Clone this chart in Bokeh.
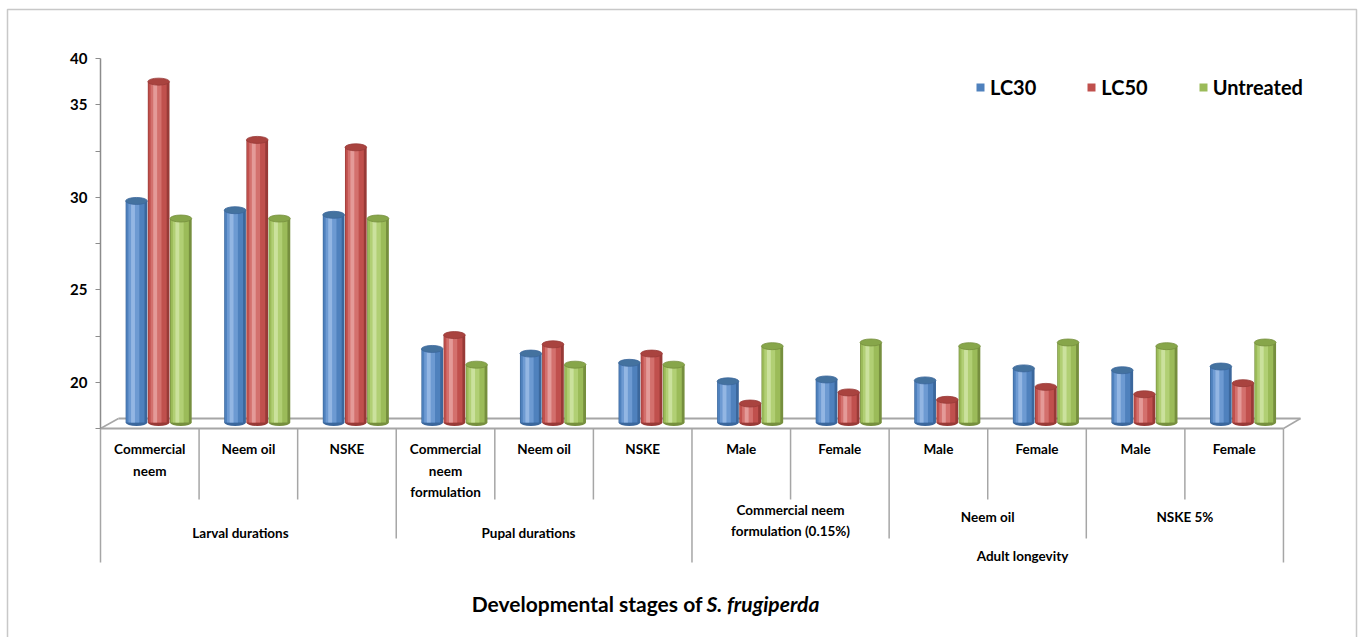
from bokeh.plotting import figure
from bokeh.models import (Range1d, FixedTicker, Legend, LegendItem,
                          BoxAnnotation, ColumnDataSource)
from bokeh.core.properties import value
from bokeh.embed import file_html
from bokeh.resources import INLINE

# ---------------------------------------------------------------- data
categories = ["Commercial\nneem", "Neem oil", "NSKE",
              "Commercial\nneem\nformulation", "Neem oil", "NSKE",
              "Male", "Female", "Male", "Female", "Male", "Female"]

lc30 = [29.8, 29.3, 29.05, 21.8, 21.55, 21.05,
        20.05, 20.15, 20.1, 20.75, 20.65, 20.85]
lc50 = [36.25, 33.1, 32.7, 22.55, 22.05, 21.55,
        18.85, 19.45, 19.05, 19.75, 19.35, 19.95]
untreated = [28.85, 28.85, 28.85, 20.95, 20.95, 20.95,
             21.95, 22.15, 21.95, 22.15, 21.95, 22.15]

series_names = ["LC30", "LC50", "Untreated"]

stage_groups = ["Larval durations", "Pupal durations"]
adult_groups = ["Commercial neem\nformulation (0.15%)", "Neem oil", "NSKE 5%"]
adult_stage = "Adult longevity"
axis_title = "Developmental stages of"
species = "S. frugiperda"

y_ticks = [17.5, 20, 22.5, 25, 27.5, 30, 32.5, 35, 37.5]
y_tick_labels = ["", "20", "", "25", "", "30", "", "35", "40"]

# ---------------------------------------------------------------- layout
W, H = 1358, 637
AXIS_PX = 100             # pixel column of the value axis
CAT_PX = 98.58            # width of one category cell
AXIS_MIN = y_ticks[0]
BASE_PY = 428             # pixel row of the axis minimum
UNIT_PX = 18.5            # pixels per unit on the value axis
FONT = value("Lato")


def xd(px):
    return (px - AXIS_PX) / CAT_PX


def yd(py):
    return AXIS_MIN + (BASE_PY - py) / UNIT_PX


p = figure(width=W, height=H, output_backend="svg", toolbar_location=None,
           x_range=Range1d(xd(0), xd(W)), y_range=Range1d(yd(H), yd(0)),
           x_axis_location=None, min_border_left=0,
           min_border_right=0, min_border_top=0, min_border_bottom=0)
p.grid.visible = False
p.outline_line_color = None
p.background_fill_color = "white"
p.border_fill_color = "white"

# value axis, pinned to the left wall of the 3-D box
ax = p.yaxis[0]
ax.fixed_location = 0
ax.ticker = FixedTicker(ticks=y_ticks)
ax.bounds = (y_ticks[0], y_ticks[-1])
ax.major_label_overrides = {t: lab for t, lab in zip(y_ticks, y_tick_labels)}
ax.axis_line_color = "#8c8c8c"
ax.axis_line_width = 1.5
ax.major_tick_line_color = "#8c8c8c"
ax.major_tick_line_width = 1.2
ax.major_tick_out = 5
ax.major_tick_in = 0
ax.minor_tick_out = 0
ax.minor_tick_in = 0
ax.major_label_standoff = 8
ax.major_label_text_font = "Lato"
ax.major_label_text_font_style = "bold"
ax.major_label_text_font_size = "15px"
ax.major_label_text_color = "black"

# floor of the 3-D box
n = len(categories)
floor_back = yd(418)
p.line(x=[xd(118), xd(1300)], y=[floor_back, floor_back],
       line_color="#a6a6a6", line_width=2)
p.line(x=[0, xd(118)], y=[AXIS_MIN, floor_back], line_color="#a6a6a6", line_width=1.5)
p.line(x=[n, xd(1300)], y=[AXIS_MIN, floor_back], line_color="#a6a6a6", line_width=1.5)
p.line(x=[0, n], y=[AXIS_MIN, AXIS_MIN], line_color="#a6a6a6", line_width=2)

# cylinders
palettes = [
    dict(edge="#3b679c", base="#4f81bd", light="#6d9ad2", hi="#93b6e3", top="#44729f"),
    dict(edge="#983a37", base="#c0504d", light="#d3706d", hi="#e49a98", top="#a9433f"),
    dict(edge="#768f3e", base="#9bbb59", light="#b1cf74", hi="#cbe19d", top="#87a64a"),
]
bands = [(1.0, 0.0, "edge"), (0.84, -0.05, "base"),
         (0.5, -0.12, "light"), (0.18, -0.16, "hi")]
BAR_W = 0.22
BAR_CENTER = 0.59
BAR_STEP = 0.225
base_y = yd(422)

body_renderers = []
for k, vals in enumerate([lc30, lc50, untreated]):
    pal = palettes[k]
    xs = [i + BAR_CENTER + (k - 1) * BAR_STEP for i in range(n)]
    src = ColumnDataSource(dict(x=xs, top=vals, bottom=[base_y] * n))
    p.ellipse(x="x", y="bottom", width=BAR_W, height=7, height_units="screen",
              source=src, fill_color=pal["edge"], line_color=None)
    main = None
    for frac, shift, key in bands:
        bsrc = ColumnDataSource(dict(x=[v + shift * BAR_W for v in xs],
                                     top=vals, bottom=[base_y] * n))
        r = p.vbar(x="x", top="top", bottom="bottom", width=BAR_W * frac,
                   source=bsrc, fill_color=pal[key], line_color=None)
        if key == "base":
            main = r
    body_renderers.append(main)
    p.ellipse(x="x", y="top", width=BAR_W, height=7, height_units="screen",
              source=src, fill_color=pal["top"], line_color=pal["edge"],
              line_width=0.8)

# category table below the floor
boundary_level = [3, 1, 1, 2, 1, 1, 3, 1, 2, 1, 2, 1, 3]
level_bottom = {1: 499, 2: 538, 3: 562}
p.segment(x0=list(range(n + 1)), y0=[AXIS_MIN] * (n + 1),
          x1=list(range(n + 1)), y1=[yd(level_bottom[l]) for l in boundary_level],
          line_color="#a6a6a6", line_width=1.5)

line_rows = [448, 470, 491]
tx, ty, tt = [], [], []
for i, lab in enumerate(categories):
    for j, part in enumerate(lab.split("\n")):
        tx.append(i + 0.5)
        ty.append(yd(line_rows[j]))
        tt.append(part)

group_pos = [(xd(240), [532]), (xd(528), [532]),
             (7.0, [509, 530]), (9.0, [516]), (11.0, [516])]
for lab, (gx, rows) in zip(stage_groups + adult_groups, group_pos):
    for part, row in zip(lab.split("\n"), rows):
        tx.append(gx)
        ty.append(yd(row))
        tt.append(part)
tx.append(xd(1022))
ty.append(yd(555))
tt.append(adult_stage)

p.text(x=tx, y=ty, text=tt, text_font=FONT, text_font_style="bold",
       text_font_size="13.5px", text_color="black",
       text_align="center", text_baseline="middle")

# axis title with italic species name
p.text(x=[xd(702)], y=[yd(603)], text=[axis_title], text_font=FONT,
       text_font_style="bold", text_font_size="21px", text_color="black",
       text_align="right", text_baseline="middle")
p.text(x=[xd(706)], y=[yd(603)], text=[species], text_font=FONT,
       text_font_style="bold italic", text_font_size="21px", text_color="black",
       text_align="left", text_baseline="middle")

# legend
legend = Legend(items=[LegendItem(label=nm, renderers=[r])
                       for nm, r in zip(series_names, body_renderers)],
                orientation="horizontal", location=(975, H - 99),
                glyph_width=10, glyph_height=10, label_standoff=5,
                spacing=50, padding=0, margin=0, label_height=22,
                label_text_font="Lato", label_text_font_style="bold",
                label_text_font_size="20px", label_text_color="black",
                border_line_color=None, background_fill_alpha=0)
p.add_layout(legend)

# outer frame of the figure
p.add_layout(BoxAnnotation(left=7, right=1356, top=9, bottom=645,
                           left_units="canvas", right_units="canvas",
                           top_units="canvas", bottom_units="canvas",
                           fill_alpha=0, line_color="#4a4a4a", line_width=1.5))

open("out.html", "w").write(file_html(p, INLINE))
